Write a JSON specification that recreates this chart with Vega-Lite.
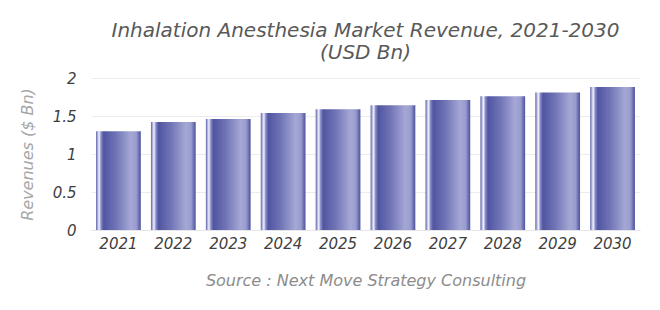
{
  "$schema": "https://vega.github.io/schema/vega-lite/v6.json",
  "autosize": "none",
  "width": 549,
  "height": 152,
  "padding": {"left": 91, "top": 78, "right": 20, "bottom": 80},
  "background": "white",
  "title": {
    "text": ["Inhalation Anesthesia Market Revenue, 2021-2030", "(USD Bn)"],
    "font": "DejaVu Sans",
    "fontStyle": "italic",
    "fontWeight": "normal",
    "fontSize": 20,
    "lineHeight": 22,
    "color": "#595959",
    "anchor": "middle",
    "offset": 8
  },
  "data": {
    "values": [
      {"year": "2021", "revenue": 1.30},
      {"year": "2022", "revenue": 1.42},
      {"year": "2023", "revenue": 1.46},
      {"year": "2024", "revenue": 1.54},
      {"year": "2025", "revenue": 1.59},
      {"year": "2026", "revenue": 1.64},
      {"year": "2027", "revenue": 1.71},
      {"year": "2028", "revenue": 1.76},
      {"year": "2029", "revenue": 1.81},
      {"year": "2030", "revenue": 1.88}
    ]
  },
  "mark": {
    "type": "bar",
    "color": {
      "gradient": "linear",
      "x1": 0, "y1": 0, "x2": 1, "y2": 0,
      "stops": [
        {"offset": 0, "color": "#5a5fa6"},
        {"offset": 0.04, "color": "#b8bbe0"},
        {"offset": 0.07, "color": "#f2f2fa"},
        {"offset": 0.11, "color": "#8a8ec8"},
        {"offset": 0.17, "color": "#5055a1"},
        {"offset": 0.45, "color": "#7175b6"},
        {"offset": 0.78, "color": "#a5a8d5"},
        {"offset": 0.9, "color": "#989bce"},
        {"offset": 0.96, "color": "#6a6eb0"},
        {"offset": 1, "color": "#4d529c"}
      ]
    }
  },
  "encoding": {
    "x": {
      "field": "year",
      "type": "ordinal",
      "scale": {"paddingInner": 0.185, "paddingOuter": 0.092},
      "axis": {
        "title": "Source : Next Move Strategy Consulting",
        "titleFont": "DejaVu Sans",
        "titleFontStyle": "italic",
        "titleFontWeight": "normal",
        "titleFontSize": 16,
        "titleColor": "#8c8c8c",
        "titlePadding": 21,
        "labelAngle": 0,
        "labelFont": "DejaVu Sans",
        "labelFontStyle": "italic",
        "labelFontSize": 15,
        "labelColor": "#404040",
        "labelPadding": 6,
        "ticks": false,
        "domain": true,
        "domainColor": "#e6e6e6",
        "grid": false
      }
    },
    "y": {
      "field": "revenue",
      "type": "quantitative",
      "scale": {"domain": [0, 2]},
      "axis": {
        "values": [0, 0.5, 1, 1.5, 2],
        "format": "~g",
        "title": "Revenues ($ Bn)",
        "titleFont": "DejaVu Sans",
        "titleFontStyle": "italic",
        "titleFontWeight": "normal",
        "titleFontSize": 16,
        "titleColor": "#a6a6a6",
        "titlePadding": 17,
        "labelFont": "DejaVu Sans",
        "labelFontStyle": "italic",
        "labelFontSize": 15,
        "labelColor": "#404040",
        "labelPadding": 15,
        "ticks": false,
        "domain": false,
        "grid": true,
        "gridColor": "#ececec"
      }
    }
  },
  "config": {"view": {"stroke": null}}
}
